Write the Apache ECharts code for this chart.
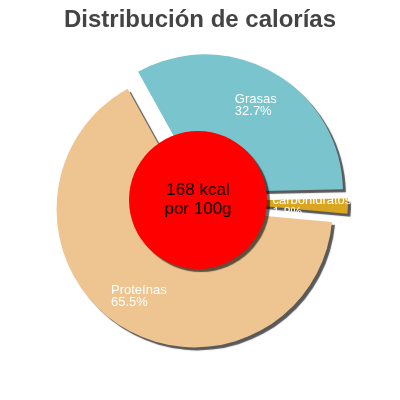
<!DOCTYPE html>
<html>
<head>
<meta charset="utf-8">
<script src="https://cdn.jsdelivr.net/npm/echarts@6/dist/echarts.min.js"></script>
<style>
  html, body { margin: 0; padding: 0; background: #fff; }
  #chart { width: 400px; height: 400px; }
</style>
</head>
<body>
<div id="chart"></div>
<script>
const categories = ["Grasas", "carbohidratos", "Proteínas"];
const percents = [32.7, 1.8, 65.5];
const sliceColors = ["#7AC5CD", "#DAA520", "#EEC591"];
const centerLines = ["168 kcal", "por 100g"];

const chart = echarts.init(document.getElementById("chart"));

const pieData = categories.map((name, i) => ({
  name: name,
  value: percents[i],
  selected: true,
  itemStyle: { color: sliceColors[i] },
}));

const labelData = categories.map((name, i) => ({
  name: name,
  value: percents[i],
  selected: true,
}));

const option = {
  animation: false,
  title: {
    text: "Distribución de calorías",
    left: "center",
    top: 3,
    textStyle: {
      fontFamily: "Liberation Sans",
      fontSize: 24,
      fontWeight: "bold",
      color: "#444",
    },
  },
  series: [
    {
      // the slices
      type: "pie",
      z: 1,
      silent: true,
      center: ["50%", 201],
      radius: [0, 138],
      startAngle: 119,
      clockwise: true,
      selectedMode: "multiple",
      selectedOffset: 10,
      label: { show: false },
      labelLine: { show: false },
      itemStyle: {
        shadowColor: "rgba(0,0,0,0.65)",
        shadowOffsetX: 3,
        shadowOffsetY: 3,
        shadowBlur: 1,
      },
      emphasis: { disabled: true },
      data: pieData,
    },
    {
      // red disc with the energy text
      type: "pie",
      z: 2,
      silent: true,
      center: [198, 200],
      radius: [0, 69],
      label: {
        show: true,
        position: "center",
        formatter: centerLines.join("\n"),
        fontFamily: "Liberation Sans",
        fontSize: 17,
        lineHeight: 19,
        color: "#000",
      },
      labelLine: { show: false },
      itemStyle: {
        color: "#FF0000",
        shadowColor: "rgba(0,0,0,0.6)",
        shadowOffsetX: 3,
        shadowOffsetY: 3,
        shadowBlur: 1,
      },
      emphasis: { disabled: true },
      data: [{ name: "kcal", value: 1 }],
    },
    {
      // invisible ring only used to place the slice labels
      type: "pie",
      z: 3,
      silent: true,
      center: ["50%", 203],
      radius: [60, 138],
      startAngle: 119,
      clockwise: true,
      selectedMode: "multiple",
      selectedOffset: 10,
      itemStyle: { color: "transparent" },
      label: {
        show: true,
        position: "inside",
        formatter: (p) => p.name + "\n" + p.value.toFixed(1) + "%",
        fontFamily: "Liberation Sans",
        fontSize: 13,
        lineHeight: 12,
        color: "#fff",
        textBorderWidth: 0,
      },
      // keep the block centred but left-align its lines
      labelLayout: (params) => ({
        align: "left",
        dx: -params.labelRect.width / 2,
      }),
      labelLine: { show: false },
      emphasis: { disabled: true },
      data: labelData,
    },
  ],
};

chart.setOption(option);
</script>
</body>
</html>
